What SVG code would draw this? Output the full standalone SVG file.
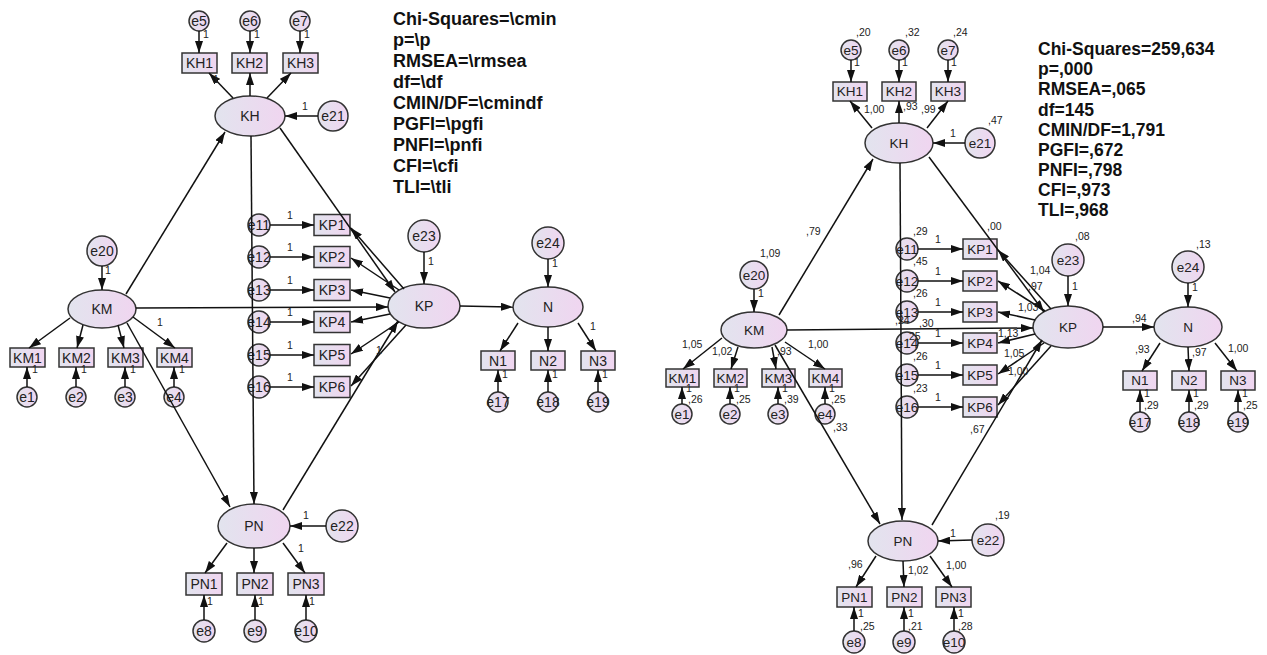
<svg xmlns="http://www.w3.org/2000/svg" width="1267" height="655" viewBox="0 0 1267 655">
<defs>
<linearGradient id="g" x1="0" y1="0" x2="1" y2="0">
<stop offset="0" stop-color="#e2e4ee"/>
<stop offset="1" stop-color="#f0d5f0"/>
</linearGradient>
<marker id="a" viewBox="0 0 12 8" refX="12" refY="4" markerWidth="12" markerHeight="8" markerUnits="userSpaceOnUse" orient="auto">
<path d="M0,0 L12,4 L0,8 z" fill="#111"/>
</marker>
<style>
.n{fill:url(#g);stroke:#333;stroke-width:1.5}
.t{font-family:"Liberation Sans",Arial,sans-serif;font-size:14px;fill:#222;text-anchor:middle;dominant-baseline:central}
.r .t{font-size:13.5px}
.c line{stroke:#111;stroke-width:1.5;marker-end:url(#a)}
.s{font-family:"Liberation Sans",Arial,sans-serif;font-size:10.5px;fill:#222}
.st{font-family:"Liberation Sans",Arial,sans-serif;font-weight:bold;font-size:18px;fill:#111}
.st2{font-family:"Liberation Sans",Arial,sans-serif;font-weight:bold;font-size:17.5px;fill:#111}
</style>
</defs>
<rect width="1267" height="655" fill="#fff"/>

<!-- LEFT DIAGRAM NODES -->
<g id="left-nodes">
<g id="L-e5"><circle class="n" cx="199" cy="21" r="10"/><text class="t" x="199" y="21">e5</text></g>
<g id="L-e6"><circle class="n" cx="250" cy="21" r="10"/><text class="t" x="250" y="21">e6</text></g>
<g id="L-e7"><circle class="n" cx="300" cy="21" r="10"/><text class="t" x="300" y="21">e7</text></g>
<g id="L-KH1"><rect class="n" x="182" y="53" width="35" height="20"/><text class="t" x="199.5" y="63">KH1</text></g>
<g id="L-KH2"><rect class="n" x="232" y="53" width="35" height="20"/><text class="t" x="249.5" y="63">KH2</text></g>
<g id="L-KH3"><rect class="n" x="283" y="53" width="35" height="20"/><text class="t" x="300.5" y="63">KH3</text></g>
<g id="L-KH"><ellipse class="n" cx="250" cy="116" rx="35" ry="20"/><text class="t" x="250" y="116">KH</text></g>
<g id="L-e21"><circle class="n" cx="333" cy="116" r="15"/><text class="t" x="333" y="116">e21</text></g>
<g id="L-e20"><circle class="n" cx="102" cy="251" r="15"/><text class="t" x="102" y="251">e20</text></g>
<g id="L-KM"><ellipse class="n" cx="102" cy="309" rx="34" ry="19"/><text class="t" x="102" y="309">KM</text></g>
<g id="L-KM1"><rect class="n" x="10" y="348" width="35" height="19"/><text class="t" x="27.5" y="357.5">KM1</text></g>
<g id="L-KM2"><rect class="n" x="59" y="348" width="35" height="19"/><text class="t" x="76.5" y="357.5">KM2</text></g>
<g id="L-KM3"><rect class="n" x="108" y="348" width="35" height="19"/><text class="t" x="125.5" y="357.5">KM3</text></g>
<g id="L-KM4"><rect class="n" x="157" y="348" width="35" height="19"/><text class="t" x="174.5" y="357.5">KM4</text></g>
<g id="L-e1"><circle class="n" cx="27" cy="397" r="10"/><text class="t" x="27" y="397">e1</text></g>
<g id="L-e2"><circle class="n" cx="76" cy="397" r="10"/><text class="t" x="76" y="397">e2</text></g>
<g id="L-e3"><circle class="n" cx="125" cy="397" r="10"/><text class="t" x="125" y="397">e3</text></g>
<g id="L-e4"><circle class="n" cx="174" cy="397" r="10"/><text class="t" x="174" y="397">e4</text></g>
<g id="L-e11"><circle class="n" cx="259" cy="225" r="11"/><text class="t" x="259" y="225">e11</text></g>
<g id="L-e12"><circle class="n" cx="259" cy="257" r="11"/><text class="t" x="259" y="257">e12</text></g>
<g id="L-e13"><circle class="n" cx="259" cy="290" r="11"/><text class="t" x="259" y="290">e13</text></g>
<g id="L-e14"><circle class="n" cx="259" cy="322" r="11"/><text class="t" x="259" y="322">e14</text></g>
<g id="L-e15"><circle class="n" cx="259" cy="355" r="11"/><text class="t" x="259" y="355">e15</text></g>
<g id="L-e16"><circle class="n" cx="259" cy="387" r="11"/><text class="t" x="259" y="387">e16</text></g>
<g id="L-KP1"><rect class="n" x="314" y="214.5" width="36" height="21"/><text class="t" x="332" y="225">KP1</text></g>
<g id="L-KP2"><rect class="n" x="314" y="246.5" width="36" height="21"/><text class="t" x="332" y="257">KP2</text></g>
<g id="L-KP3"><rect class="n" x="314" y="279.5" width="36" height="21"/><text class="t" x="332" y="290">KP3</text></g>
<g id="L-KP4"><rect class="n" x="314" y="311.5" width="36" height="21"/><text class="t" x="332" y="322">KP4</text></g>
<g id="L-KP5"><rect class="n" x="314" y="344.5" width="36" height="21"/><text class="t" x="332" y="355">KP5</text></g>
<g id="L-KP6"><rect class="n" x="314" y="376.5" width="36" height="21"/><text class="t" x="332" y="387">KP6</text></g>
<g id="L-e23"><circle class="n" cx="424" cy="236" r="16"/><text class="t" x="424" y="236">e23</text></g>
<g id="L-KP"><ellipse class="n" cx="424" cy="306" rx="36" ry="22"/><text class="t" x="424" y="306">KP</text></g>
<g id="L-e24"><circle class="n" cx="548" cy="243" r="16"/><text class="t" x="548" y="243">e24</text></g>
<g id="L-N"><ellipse class="n" cx="548" cy="307" rx="35" ry="20"/><text class="t" x="548" y="307">N</text></g>
<g id="L-N1"><rect class="n" x="481" y="351" width="34" height="19"/><text class="t" x="498" y="360.5">N1</text></g>
<g id="L-N2"><rect class="n" x="531" y="351" width="34" height="19"/><text class="t" x="548" y="360.5">N2</text></g>
<g id="L-N3"><rect class="n" x="581" y="351" width="34" height="19"/><text class="t" x="598" y="360.5">N3</text></g>
<g id="L-e17"><circle class="n" cx="498" cy="402" r="10"/><text class="t" x="498" y="402">e17</text></g>
<g id="L-e18"><circle class="n" cx="548" cy="402" r="10"/><text class="t" x="548" y="402">e18</text></g>
<g id="L-e19"><circle class="n" cx="598" cy="402" r="10"/><text class="t" x="598" y="402">e19</text></g>
<g id="L-PN"><ellipse class="n" cx="254" cy="526" rx="36" ry="22"/><text class="t" x="254" y="526">PN</text></g>
<g id="L-e22"><circle class="n" cx="342" cy="526" r="16"/><text class="t" x="342" y="526">e22</text></g>
<g id="L-PN1"><rect class="n" x="186" y="573" width="36" height="22"/><text class="t" x="204" y="584">PN1</text></g>
<g id="L-PN2"><rect class="n" x="237" y="573" width="36" height="22"/><text class="t" x="255" y="584">PN2</text></g>
<g id="L-PN3"><rect class="n" x="288" y="573" width="36" height="22"/><text class="t" x="306" y="584">PN3</text></g>
<g id="L-e8"><circle class="n" cx="204" cy="631" r="11"/><text class="t" x="204" y="631">e8</text></g>
<g id="L-e9"><circle class="n" cx="255" cy="631" r="11"/><text class="t" x="255" y="631">e9</text></g>
<g id="L-e10"><circle class="n" cx="306" cy="631" r="11"/><text class="t" x="306" y="631">e10</text></g>
</g>

<!-- LEFT CONNECTORS -->
<g id="left-connectors" class="c">
<line x1="199" y1="31" x2="199" y2="53"/>
<line x1="250" y1="31" x2="250" y2="53"/>
<line x1="300" y1="31" x2="300" y2="53"/>
<line x1="233" y1="98" x2="209" y2="73"/>
<line x1="250" y1="96" x2="250" y2="73"/>
<line x1="267" y1="98" x2="291" y2="73"/>
<line x1="318" y1="116" x2="285" y2="116"/>
<line x1="126" y1="294" x2="225" y2="132"/>
<line x1="251" y1="136" x2="254" y2="504"/>
<line x1="280" y1="128" x2="395" y2="292"/>
<line x1="136" y1="308" x2="388" y2="307"/>
<line x1="127" y1="323" x2="230" y2="507"/>
<line x1="283" y1="510" x2="398" y2="321"/>
<line x1="270" y1="225" x2="314" y2="225"/>
<line x1="270" y1="257" x2="314" y2="257"/>
<line x1="270" y1="290" x2="314" y2="290"/>
<line x1="270" y1="322" x2="314" y2="322"/>
<line x1="270" y1="355" x2="314" y2="355"/>
<line x1="270" y1="387" x2="314" y2="387"/>
<line x1="404" y1="289" x2="351" y2="228"/>
<line x1="399" y1="290" x2="351" y2="258"/>
<line x1="390" y1="298" x2="351" y2="290"/>
<line x1="390" y1="314" x2="351" y2="322"/>
<line x1="399" y1="322" x2="351" y2="354"/>
<line x1="406" y1="325" x2="351" y2="386"/>
<line x1="424" y1="252" x2="424" y2="284"/>
<line x1="460" y1="306" x2="513" y2="307"/>
<line x1="548" y1="259" x2="548" y2="287"/>
<line x1="518" y1="323" x2="500" y2="351"/>
<line x1="548" y1="327" x2="548" y2="351"/>
<line x1="578" y1="323" x2="596" y2="351"/>
<line x1="498" y1="392" x2="498" y2="370"/>
<line x1="548" y1="392" x2="548" y2="370"/>
<line x1="598" y1="392" x2="598" y2="370"/>
<line x1="102" y1="266" x2="102" y2="290"/>
<line x1="70" y1="318" x2="29" y2="348"/>
<line x1="83" y1="325" x2="77" y2="348"/>
<line x1="118" y1="325" x2="124" y2="348"/>
<line x1="133" y1="317" x2="175" y2="348"/>
<line x1="27" y1="387" x2="27" y2="367"/>
<line x1="76" y1="387" x2="76" y2="367"/>
<line x1="125" y1="387" x2="125" y2="367"/>
<line x1="174" y1="387" x2="174" y2="367"/>
<line x1="227" y1="543" x2="205" y2="573"/>
<line x1="254" y1="548" x2="254" y2="573"/>
<line x1="283" y1="543" x2="305" y2="573"/>
<line x1="326" y1="526" x2="290" y2="526"/>
<line x1="204" y1="620" x2="204" y2="595"/>
<line x1="255" y1="620" x2="255" y2="595"/>
<line x1="306" y1="620" x2="306" y2="595"/>
</g>

<!-- LEFT LABELS -->
<g id="left-labels" class="s">
<text x="203" y="38">1</text><text x="254" y="38">1</text><text x="304" y="38">1</text>
<text x="213" y="83">1</text>
<text x="302" y="110">1</text>
<text x="105" y="274">1</text>
<text x="157" y="326">1</text>
<text x="32" y="373">1</text><text x="81" y="373">1</text><text x="130" y="373">1</text><text x="179" y="373">1</text>
<text x="287" y="219">1</text><text x="287" y="251">1</text><text x="287" y="284">1</text><text x="287" y="316">1</text><text x="287" y="349">1</text><text x="287" y="381">1</text>
<text x="376" y="354">1</text>
<text x="428" y="265">1</text>
<text x="552" y="267">1</text>
<text x="590" y="330">1</text>
<text x="502" y="378">1</text><text x="552" y="378">1</text><text x="602" y="378">1</text>
<text x="303" y="519">1</text>
<text x="298" y="552">1</text>
<text x="207" y="605">1</text><text x="258" y="605">1</text><text x="309" y="605">1</text>
</g>
<g id="left-stats" class="st">
<text x="393" y="25">Chi-Squares=\cmin</text>
<text x="393" y="46">p=\p</text>
<text x="393" y="67">RMSEA=\rmsea</text>
<text x="393" y="88">df=\df</text>
<text x="393" y="109">CMIN/DF=\cmindf</text>
<text x="393" y="130">PGFI=\pgfi</text>
<text x="393" y="151">PNFI=\pnfi</text>
<text x="393" y="172">CFI=\cfi</text>
<text x="393" y="193">TLI=\tli</text>
</g>

<!-- RIGHT DIAGRAM NODES -->
<g id="right-nodes" class="r">
<g id="R-e5"><circle class="n" cx="851" cy="50" r="10"/><text class="t" x="851" y="50">e5</text></g>
<g id="R-e6"><circle class="n" cx="899" cy="50" r="10"/><text class="t" x="899" y="50">e6</text></g>
<g id="R-e7"><circle class="n" cx="948" cy="50" r="10"/><text class="t" x="948" y="50">e7</text></g>
<g id="R-KH1"><rect class="n" x="833" y="82" width="34" height="19"/><text class="t" x="850" y="91.5">KH1</text></g>
<g id="R-KH2"><rect class="n" x="882" y="82" width="34" height="19"/><text class="t" x="899" y="91.5">KH2</text></g>
<g id="R-KH3"><rect class="n" x="931" y="82" width="34" height="19"/><text class="t" x="948" y="91.5">KH3</text></g>
<g id="R-KH"><ellipse class="n" cx="899" cy="143" rx="34" ry="20"/><text class="t" x="899" y="143">KH</text></g>
<g id="R-e21"><circle class="n" cx="980" cy="143" r="15"/><text class="t" x="980" y="143">e21</text></g>
<g id="R-e20"><circle class="n" cx="754" cy="275" r="14"/><text class="t" x="754" y="275">e20</text></g>
<g id="R-KM"><ellipse class="n" cx="754" cy="330" rx="33" ry="18"/><text class="t" x="754" y="330">KM</text></g>
<g id="R-KM1"><rect class="n" x="666" y="369" width="33" height="18"/><text class="t" x="682.5" y="378">KM1</text></g>
<g id="R-KM2"><rect class="n" x="714" y="369" width="33" height="18"/><text class="t" x="730.5" y="378">KM2</text></g>
<g id="R-KM3"><rect class="n" x="762" y="369" width="33" height="18"/><text class="t" x="778.5" y="378">KM3</text></g>
<g id="R-KM4"><rect class="n" x="809" y="369" width="33" height="18"/><text class="t" x="825.5" y="378">KM4</text></g>
<g id="R-e1"><circle class="n" cx="682" cy="414" r="10"/><text class="t" x="682" y="414">e1</text></g>
<g id="R-e2"><circle class="n" cx="730" cy="414" r="10"/><text class="t" x="730" y="414">e2</text></g>
<g id="R-e3"><circle class="n" cx="778" cy="414" r="10"/><text class="t" x="778" y="414">e3</text></g>
<g id="R-e4"><circle class="n" cx="825" cy="414" r="10"/><text class="t" x="825" y="414">e4</text></g>
<g id="R-e11"><circle class="n" cx="907" cy="249" r="11"/><text class="t" x="907" y="249">e11</text></g>
<g id="R-e12"><circle class="n" cx="907" cy="281" r="11"/><text class="t" x="907" y="281">e12</text></g>
<g id="R-e13"><circle class="n" cx="907" cy="312" r="11"/><text class="t" x="907" y="312">e13</text></g>
<g id="R-e14"><circle class="n" cx="907" cy="343" r="11"/><text class="t" x="907" y="343">e14</text></g>
<g id="R-e15"><circle class="n" cx="907" cy="375" r="11"/><text class="t" x="907" y="375">e15</text></g>
<g id="R-e16"><circle class="n" cx="907" cy="407" r="11"/><text class="t" x="907" y="407">e16</text></g>
<g id="R-KP1"><rect class="n" x="963" y="239" width="34" height="20"/><text class="t" x="980" y="249">KP1</text></g>
<g id="R-KP2"><rect class="n" x="963" y="271" width="34" height="20"/><text class="t" x="980" y="281">KP2</text></g>
<g id="R-KP3"><rect class="n" x="963" y="302" width="34" height="20"/><text class="t" x="980" y="312">KP3</text></g>
<g id="R-KP4"><rect class="n" x="963" y="333" width="34" height="20"/><text class="t" x="980" y="343">KP4</text></g>
<g id="R-KP5"><rect class="n" x="963" y="365" width="34" height="20"/><text class="t" x="980" y="375">KP5</text></g>
<g id="R-KP6"><rect class="n" x="963" y="397" width="34" height="20"/><text class="t" x="980" y="407">KP6</text></g>
<g id="R-e23"><circle class="n" cx="1068" cy="260" r="16"/><text class="t" x="1068" y="260">e23</text></g>
<g id="R-KP"><ellipse class="n" cx="1068" cy="327" rx="35" ry="21"/><text class="t" x="1068" y="327">KP</text></g>
<g id="R-e24"><circle class="n" cx="1188" cy="267" r="16"/><text class="t" x="1188" y="267">e24</text></g>
<g id="R-N"><ellipse class="n" cx="1188" cy="327" rx="34" ry="20"/><text class="t" x="1188" y="327">N</text></g>
<g id="R-N1"><rect class="n" x="1123" y="371" width="34" height="19"/><text class="t" x="1140" y="380.5">N1</text></g>
<g id="R-N2"><rect class="n" x="1172" y="371" width="34" height="19"/><text class="t" x="1189" y="380.5">N2</text></g>
<g id="R-N3"><rect class="n" x="1221" y="371" width="34" height="19"/><text class="t" x="1238" y="380.5">N3</text></g>
<g id="R-e17"><circle class="n" cx="1140" cy="422" r="10"/><text class="t" x="1140" y="422">e17</text></g>
<g id="R-e18"><circle class="n" cx="1189" cy="422" r="10"/><text class="t" x="1189" y="422">e18</text></g>
<g id="R-e19"><circle class="n" cx="1238" cy="422" r="10"/><text class="t" x="1238" y="422">e19</text></g>
<g id="R-PN"><ellipse class="n" cx="903" cy="541" rx="35" ry="20"/><text class="t" x="903" y="541">PN</text></g>
<g id="R-e22"><circle class="n" cx="988" cy="540" r="16"/><text class="t" x="988" y="540">e22</text></g>
<g id="R-PN1"><rect class="n" x="837" y="587" width="35" height="20"/><text class="t" x="854.5" y="597">PN1</text></g>
<g id="R-PN2"><rect class="n" x="887" y="587" width="35" height="20"/><text class="t" x="904.5" y="597">PN2</text></g>
<g id="R-PN3"><rect class="n" x="936" y="587" width="35" height="20"/><text class="t" x="953.5" y="597">PN3</text></g>
<g id="R-e8"><circle class="n" cx="854" cy="642" r="11"/><text class="t" x="854" y="642">e8</text></g>
<g id="R-e9"><circle class="n" cx="904" cy="642" r="11"/><text class="t" x="904" y="642">e9</text></g>
<g id="R-e10"><circle class="n" cx="954" cy="642" r="11"/><text class="t" x="954" y="642">e10</text></g>
</g>

<!-- RIGHT CONNECTORS -->
<g id="right-connectors" class="c">
<line x1="851" y1="60" x2="851" y2="82"/>
<line x1="899" y1="60" x2="899" y2="82"/>
<line x1="948" y1="60" x2="948" y2="82"/>
<line x1="872" y1="128" x2="850" y2="101"/>
<line x1="899" y1="123" x2="899" y2="101"/>
<line x1="927" y1="128" x2="948" y2="101"/>
<line x1="965" y1="143" x2="933" y2="143"/>
<line x1="779" y1="315" x2="873" y2="159"/>
<line x1="900" y1="163" x2="902" y2="520"/>
<line x1="929" y1="157" x2="1044" y2="312"/>
<line x1="787" y1="330" x2="1033" y2="328"/>
<line x1="775" y1="345" x2="880" y2="524"/>
<line x1="932" y1="525" x2="1042" y2="340"/>
<line x1="918" y1="249" x2="963" y2="249"/>
<line x1="918" y1="281" x2="963" y2="281"/>
<line x1="918" y1="312" x2="963" y2="312"/>
<line x1="918" y1="343" x2="963" y2="343"/>
<line x1="918" y1="375" x2="963" y2="375"/>
<line x1="918" y1="407" x2="963" y2="407"/>
<line x1="1051" y1="309" x2="998" y2="250"/>
<line x1="1045" y1="311" x2="998" y2="281"/>
<line x1="1035" y1="320" x2="998" y2="312"/>
<line x1="1035" y1="334" x2="998" y2="343"/>
<line x1="1044" y1="343" x2="998" y2="374"/>
<line x1="1051" y1="346" x2="998" y2="405"/>
<line x1="1068" y1="276" x2="1068" y2="306"/>
<line x1="1103" y1="327" x2="1154" y2="327"/>
<line x1="1188" y1="283" x2="1188" y2="307"/>
<line x1="1160" y1="343" x2="1142" y2="371"/>
<line x1="1188" y1="347" x2="1189" y2="371"/>
<line x1="1215" y1="343" x2="1237" y2="371"/>
<line x1="1140" y1="412" x2="1140" y2="390"/>
<line x1="1189" y1="412" x2="1189" y2="390"/>
<line x1="1238" y1="412" x2="1238" y2="390"/>
<line x1="754" y1="289" x2="754" y2="312"/>
<line x1="722" y1="338" x2="683" y2="369"/>
<line x1="738" y1="347" x2="731" y2="369"/>
<line x1="772" y1="347" x2="776" y2="369"/>
<line x1="785" y1="342" x2="825" y2="369"/>
<line x1="682" y1="404" x2="682" y2="387"/>
<line x1="730" y1="404" x2="730" y2="387"/>
<line x1="778" y1="404" x2="778" y2="387"/>
<line x1="825" y1="404" x2="825" y2="387"/>
<line x1="876" y1="556" x2="856" y2="587"/>
<line x1="903" y1="561" x2="904" y2="587"/>
<line x1="930" y1="556" x2="952" y2="587"/>
<line x1="972" y1="540" x2="938" y2="541"/>
<line x1="854" y1="631" x2="854" y2="607"/>
<line x1="904" y1="631" x2="904" y2="607"/>
<line x1="954" y1="631" x2="954" y2="607"/>
</g>

<!-- RIGHT LABELS -->
<g id="right-labels" class="s">
<text x="856" y="36">,20</text><text x="905" y="36">,32</text><text x="953" y="36">,24</text>
<text x="854" y="66">1</text><text x="902" y="66">1</text><text x="951" y="66">1</text>
<text x="864" y="113">1,00</text><text x="903" y="110">,93</text><text x="921" y="113">,99</text>
<text x="950" y="137">1</text>
<text x="988" y="124">,47</text>
<text x="806" y="235">,79</text>
<text x="760" y="257">1,09</text>
<text x="758" y="297">1</text>
<text x="682" y="348">1,05</text><text x="712" y="355">1,02</text><text x="777" y="355">,93</text><text x="808" y="348">1,00</text>
<text x="686" y="392">1</text><text x="734" y="392">1</text><text x="782" y="392">1</text><text x="829" y="392">1</text>
<text x="688" y="403">,26</text><text x="736" y="403">,25</text><text x="784" y="403">,39</text><text x="831" y="403">,25</text>
<text x="833" y="431">,33</text>
<text x="913" y="235">,29</text><text x="913" y="265">,45</text><text x="913" y="297">,26</text>
<text x="895" y="324">,24</text><text x="919" y="327">,30</text><text x="906" y="340">,25</text>
<text x="913" y="360">,26</text><text x="913" y="392">,23</text>
<text x="935" y="243">1</text><text x="935" y="275">1</text><text x="935" y="306">1</text><text x="935" y="337">1</text><text x="935" y="369">1</text><text x="935" y="401">1</text>
<text x="987" y="230">,00</text>
<text x="1075" y="240">,08</text>
<text x="1072" y="290">1</text>
<text x="1196" y="248">,13</text>
<text x="1192" y="291">1</text>
<text x="1030" y="274">1,04</text><text x="1028" y="290">,97</text><text x="1018" y="311">1,03</text>
<text x="998" y="337">1,13</text><text x="1004" y="357">1,05</text><text x="1008" y="375">1,00</text>
<text x="970" y="433">,67</text>
<text x="1132" y="322">,94</text>
<text x="1135" y="353">,93</text><text x="1192" y="356">,97</text><text x="1228" y="352">1,00</text>
<text x="1144" y="397">1</text><text x="1193" y="397">1</text><text x="1242" y="397">1</text>
<text x="1144" y="409">,29</text><text x="1194" y="409">,29</text><text x="1243" y="409">,25</text>
<text x="950" y="537">1</text>
<text x="995" y="519">,19</text>
<text x="848" y="568">,96</text><text x="908" y="574">1,02</text><text x="946" y="569">1,00</text>
<text x="858" y="617">1</text><text x="908" y="617">1</text><text x="958" y="617">1</text>
<text x="860" y="630">,25</text><text x="908" y="630">,21</text><text x="958" y="630">,28</text>
</g>
<g id="right-stats" class="st2">
<text x="1038" y="55">Chi-Squares=259,634</text>
<text x="1038" y="75">p=,000</text>
<text x="1038" y="95">RMSEA=,065</text>
<text x="1038" y="116">df=145</text>
<text x="1038" y="136">CMIN/DF=1,791</text>
<text x="1038" y="156">PGFI=,672</text>
<text x="1038" y="176">PNFI=,798</text>
<text x="1038" y="196">CFI=,973</text>
<text x="1038" y="216">TLI=,968</text>
</g>
</svg>
